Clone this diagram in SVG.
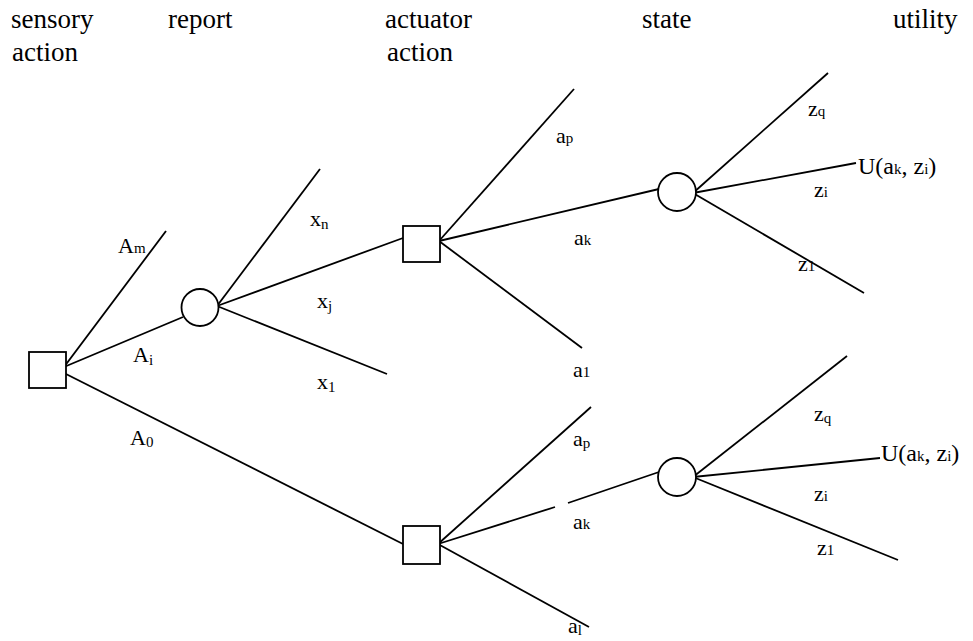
<svg xmlns="http://www.w3.org/2000/svg" width="973" height="641" viewBox="0 0 973 641" font-family="Liberation Serif, DejaVu Serif, serif">
<style>
text{fill:#000}
.h{font-size:27px}
.l{font-size:22px}
.u{font-size:24px}
.s{font-size:15px}
.node{fill:#fff;stroke:#000;stroke-width:1.8}
.edge{stroke:#000;stroke-width:1.8;fill:none}
</style>
<rect width="973" height="641" fill="#fff"/>
<g id="headers">
<text class="h" x="11" y="28" font-family="Liberation Serif">sensory</text>
<text class="h" x="12" y="61" font-family="Liberation Serif">action</text>
<text class="h" x="168" y="28" font-family="Liberation Serif">report</text>
<text class="h" x="385" y="28" font-family="Liberation Serif">actuator</text>
<text class="h" x="387" y="61" font-family="Liberation Serif">action</text>
<text class="h" x="642" y="28" font-family="Liberation Serif">state</text>
<text class="h" x="893" y="28" font-family="Liberation Serif">utility</text>
</g>
<g id="connectors">
<line class="edge" x1="64" y1="367" x2="166" y2="231"/>
<line class="edge" x1="64" y1="367" x2="183" y2="317"/>
<line class="edge" x1="64" y1="373" x2="403" y2="544"/>
<line class="edge" x1="217" y1="306" x2="320" y2="169"/>
<line class="edge" x1="217" y1="306" x2="403" y2="238"/>
<line class="edge" x1="217" y1="306" x2="387" y2="374"/>
<line class="edge" x1="439" y1="241" x2="574" y2="89"/>
<line class="edge" x1="439" y1="241" x2="659" y2="189"/>
<line class="edge" x1="439" y1="241" x2="582" y2="348"/>
<line class="edge" x1="693" y1="193" x2="828" y2="73"/>
<line class="edge" x1="693" y1="193" x2="856" y2="163"/>
<line class="edge" x1="693" y1="193" x2="864" y2="293"/>
<line class="edge" x1="438" y1="544" x2="591" y2="407"/>
<line class="edge" x1="438" y1="544" x2="555" y2="507"/>
<line class="edge" x1="568" y1="503" x2="659" y2="472"/>
<line class="edge" x1="438" y1="544" x2="589" y2="627"/>
<line class="edge" x1="693" y1="477" x2="847" y2="356"/>
<line class="edge" x1="693" y1="477" x2="880" y2="458"/>
<line class="edge" x1="693" y1="477" x2="898" y2="560"/>
</g>
<g id="sensory-decision"><rect class="node" x="29" y="352" width="37" height="36"/></g>
<g id="report-chance"><circle class="node" cx="200" cy="307.5" r="18.5"/></g>
<g id="actuator-decision-top"><rect class="node" x="403" y="226" width="37" height="36"/></g>
<g id="state-chance-top"><circle class="node" cx="677" cy="192" r="19"/></g>
<g id="actuator-decision-bottom"><rect class="node" x="403" y="526" width="37" height="38"/></g>
<g id="state-chance-bottom"><circle class="node" cx="677" cy="477" r="19"/></g>
<g id="labels" font-family="Liberation Serif, serif">
<text class="l" x="118" y="253">A<tspan class="s">m</tspan></text>
<text class="l" x="133" y="362">A<tspan class="s" dy="3">i</tspan></text>
<text class="l" x="130" y="445">A<tspan class="s" dy="2">0</tspan></text>
<text class="l" x="310" y="226">x<tspan class="s" dy="3">n</tspan></text>
<text class="l" x="317" y="308">x<tspan class="s" dy="3">j</tspan></text>
<text class="l" x="317" y="389">x<tspan class="s" dy="3">1</tspan></text>
<text class="l" x="556" y="143">a<tspan class="s">p</tspan></text>
<text class="l" x="574" y="245">a<tspan class="s">k</tspan></text>
<text class="l" x="573" y="377">a<tspan class="s">1</tspan></text>
<text class="l" x="808" y="116">z<tspan class="s">q</tspan></text>
<text class="u" x="858" y="174">U(a<tspan class="s">k</tspan>, z<tspan class="s">i</tspan>)</text>
<text class="l" x="814" y="197">z<tspan class="s">i</tspan></text>
<text class="l" x="798" y="271">z<tspan class="s">1</tspan></text>
<text class="l" x="573" y="446">a<tspan class="s" dy="2">p</tspan></text>
<text class="l" x="573" y="529">a<tspan class="s">k</tspan></text>
<text class="l" x="568" y="633">a<tspan class="s" dy="2">l</tspan></text>
<text class="l" x="814" y="421">z<tspan class="s" dy="2">q</tspan></text>
<text class="u" x="881" y="461">U(a<tspan class="s">k</tspan>, z<tspan class="s">i</tspan>)</text>
<text class="l" x="814" y="501">z<tspan class="s">i</tspan></text>
<text class="l" x="817" y="555">z<tspan class="s">1</tspan></text>
</g>
</svg>
